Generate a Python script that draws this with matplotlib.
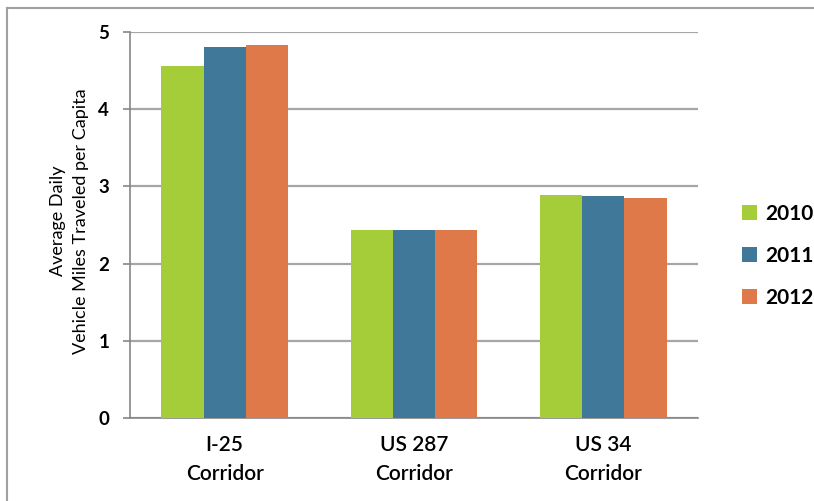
import matplotlib.pyplot as plt
from matplotlib.lines import Line2D
import numpy as np

corridors = ["I-25\nCorridor", "US 287\nCorridor", "US 34\nCorridor"]
years = ["2010", "2011", "2012"]
vmt_2010 = [4.56, 2.43, 2.89]
vmt_2011 = [4.81, 2.43, 2.87]
vmt_2012 = [4.83, 2.43, 2.85]

colors = ["#A5CC39", "#3F7899", "#DF794A"]

plt.rcParams['font.family'] = ['Lato', 'DejaVu Sans']

fig = plt.figure(figsize=(8.14, 5.01), dpi=100)
ax = fig.add_axes([130 / 814, 1 - 418 / 501, (698 - 130) / 814, (418 - 32) / 501])

x = np.arange(len(corridors))
width = 0.223
for i, (vals, yr) in enumerate(zip([vmt_2010, vmt_2011, vmt_2012], years)):
    ax.bar(x + (i - 1) * width, vals, width, color=colors[i], label=yr, zorder=3)

ax.set_xlim(-0.5, 2.5)
ax.set_ylim(0, 5)
ax.set_yticks(range(6))
ax.set_yticklabels([str(v) for v in range(6)], fontsize=13.5, fontweight='bold')
ax.set_xticks(x)
ax.set_xticklabels(corridors, fontsize=15, fontweight='semibold', linespacing=1.6)
ax.tick_params(axis='x', length=0, pad=12)
ax.tick_params(axis='y', length=5, width=1.2, color='#868686', pad=10)

ax.grid(axis='y', color='#A6A6A6', linewidth=1.6, zorder=0)
for side in ['top', 'right']:
    ax.spines[side].set_visible(False)
for side in ['left', 'bottom']:
    ax.spines[side].set_color('#868686')
    ax.spines[side].set_linewidth(1.2)

ax.set_ylabel("Average Daily\nVehicle Miles Traveled per Capita", fontsize=13,
              linespacing=1.55)
ax.yaxis.set_label_coords(-0.072, 0.51)

ax.legend(loc='center left', bbox_to_anchor=(1.045, 0.42), frameon=False,
          prop={'size': 15, 'weight': 'bold'}, handlelength=0.7, handleheight=0.7,
          handletextpad=0.4, labelspacing=1.05)

# thin frame around the chart area
fig.add_artist(Line2D([7 / 814, 7 / 814], [0, 1 - 8 / 501], color='#A0A0A0', lw=1.5))
fig.add_artist(Line2D([7 / 814, 1], [1 - 8 / 501, 1 - 8 / 501], color='#A0A0A0', lw=1.5))

fig.savefig("out.png", dpi=100)
